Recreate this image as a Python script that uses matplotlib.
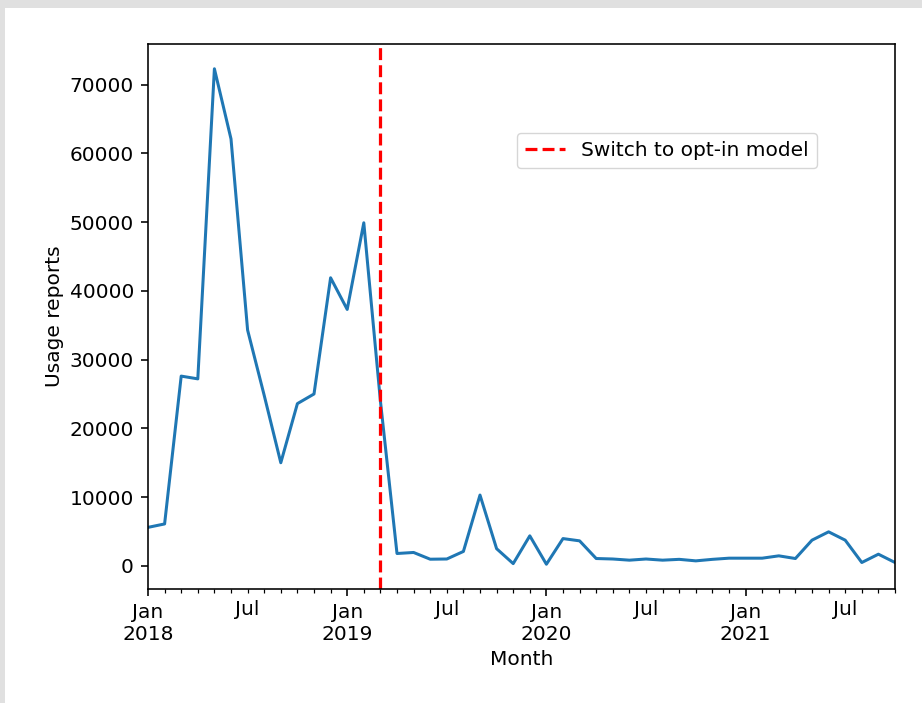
import matplotlib
matplotlib.use("Agg")
import matplotlib.pyplot as plt
import matplotlib.patches as mpatches
import pandas as pd

# monthly usage reports, Jan 2018 - Oct 2021
start_month = "2018-01"
reports = [5600, 6100, 27600, 27200, 72300, 62100, 34300, 24800, 15000, 23600,
           25000, 41900, 37300, 49900, 24000, 1800, 1950, 970, 1000, 2100,
           10300, 2500, 330, 4370, 240, 3970, 3640, 1070, 1000, 830,
           1000, 830, 950, 730, 950, 1120, 1120, 1120, 1460, 1070,
           3740, 4950, 3740, 490, 1700, 490]
switch_month = "2019-03"
switch_label = "Switch to opt-in model"

s = 1.45
plt.rcParams['font.size'] = 10 * s
plt.rcParams['axes.linewidth'] = 0.8 * s
for ax_ in ('xtick', 'ytick'):
    plt.rcParams[ax_ + '.major.size'] = 3.5 * s
    plt.rcParams[ax_ + '.minor.size'] = 2 * s
    plt.rcParams[ax_ + '.major.width'] = 0.8 * s
    plt.rcParams[ax_ + '.minor.width'] = 0.6 * s
    plt.rcParams[ax_ + '.major.pad'] = 3.5 * s
    plt.rcParams[ax_ + '.minor.pad'] = 3.4 * s

months = pd.date_range(start_month, periods=len(reports), freq="MS")
data = pd.Series(reports, index=months)

fig = plt.figure(figsize=(9.22, 7.03), dpi=100)
# screenshot shadow round the figure
fig.patch.set_facecolor('#e0e0e0')
fig.patches.append(mpatches.Rectangle((5 / 922, 0), 1, 1 - 8 / 703,
                                      transform=fig.transFigure,
                                      facecolor='white', edgecolor='none',
                                      zorder=-1))
ax = fig.add_axes([148 / 922, 1 - 589 / 703, 747 / 922, 545 / 703])
data.plot(ax=ax, lw=1.5 * s, color='#1f77b4')
ax.axvline(pd.Period(switch_month, freq='M').ordinal, color='red',
           linestyle='--', lw=1.6 * s, label=switch_label)
ax.legend(loc='upper left', bbox_to_anchor=(0.494, 0.837), borderaxespad=0)
ax.set_xlabel('Month')
ax.set_ylabel('Usage reports')

fig.savefig('out.png', dpi=100, facecolor=fig.get_facecolor())
